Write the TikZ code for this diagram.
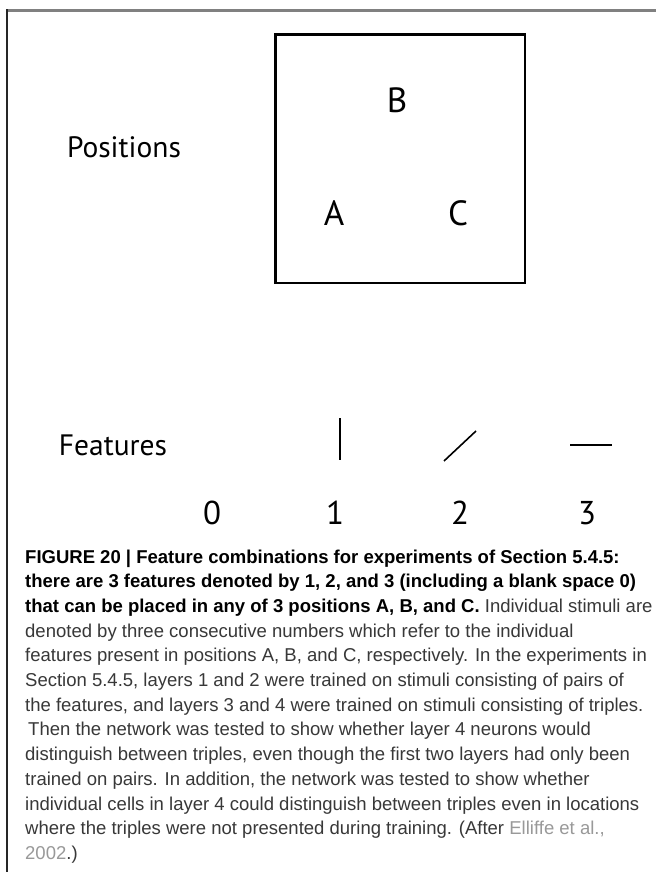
\documentclass[tikz,border=0pt]{standalone}
\usepackage{fontspec}
\setmainfont{Liberation Sans}
\newfontfamily\figfont{PT Sans}
\newfontfamily\capfont[FakeStretch=0.995]{Liberation Sans}
\definecolor{framecol}{gray}{0.5}
\definecolor{leftcol}{gray}{0.15}
\definecolor{captext}{gray}{0.22}
\definecolor{linkcol}{gray}{0.6}
\tikzset{
  lbl/.style={font=\figfont\fontsize{29.5}{32}\selectfont, inner sep=0},
  poslbl/.style={font=\figfont\fontsize{35}{38}\selectfont, inner sep=0},
  numlbl/.style={font=\figfont\fontsize{33}{36}\selectfont, inner sep=0},
  feat/.style={line width=1.6pt},
  capline/.style={font=\capfont\fontsize{18.6}{22}\selectfont, text=captext, anchor=base west, inner sep=0},
}
\begin{document}
\begin{tikzpicture}[x=1pt,y=-1pt]
\useasboundingbox (0,0) rectangle (656,872);
\fill[white] (0,0) rectangle (656,872);
\draw[framecol, line width=2.2pt] (6,10.5) -- (656,10.5);
\draw[leftcol, line width=2pt] (7,9.5) -- (7,872);
% positions
\node[draw, line width=2.5pt, minimum width=249.5pt, minimum height=248.5pt, inner sep=0, outer sep=0] (box) at (400.3,158.8) {};
\node[lbl] (positions) at (124,147) {Positions};
\node[poslbl] (B) at (397,100) {B};
\node[poslbl] (A) at (334,213) {A};
\node[poslbl] (C) at (458,213) {C};
% features
\node[lbl] (features) at (113,445) {Features};
\coordinate (f1a) at (340,418); \coordinate (f1b) at (340,460);
\coordinate (f2a) at (444,461); \coordinate (f2b) at (476,431);
\coordinate (f3a) at (570,445); \coordinate (f3b) at (612,445);
\draw[feat] (f1a) -- (f1b);
\draw[feat] (f2a) -- (f2b);
\draw[feat] (f3a) -- (f3b);
\node[numlbl] (n0) at (212,513) {0};
\node[numlbl] (n1) at (335,513) {1};
\node[numlbl] (n2) at (460,513) {2};
\node[numlbl] (n3) at (587,513) {3};
% caption
\node[capline] (c1) at (25,563.0) {\bfseries\color{black}FIGURE 20 | Feature combinations for experiments of Section 5.4.5:};
\node[capline] (c2) at (25,587.7) {\bfseries\color{black}there are 3 features denoted by 1, 2, and 3 (including a blank space 0)};
\node[capline] (c3) at (25,612.4) {{\bfseries\color{black}that can be placed in any of 3 positions A, B, and C.} Individual stimuli are};
\node[capline] (c4) at (25,637.1) {denoted by three consecutive numbers which refer to the individual};
\node[capline] (c5) at (25,661.8) {features present in positions A, B, and C, respectively. In the experiments in};
\node[capline] (c6) at (25,686.5) {Section 5.4.5, layers 1 and 2 were trained on stimuli consisting of pairs of};
\node[capline] (c7) at (25,711.2) {the features, and layers 3 and 4 were trained on stimuli consisting of triples.};
\node[capline] (c8) at (28,735.9) {Then the network was tested to show whether layer 4 neurons would};
\node[capline] (c9) at (25,760.6) {distinguish between triples, even though the first two layers had only been};
\node[capline] (c10) at (25,785.3) {trained on pairs. In addition, the network was tested to show whether};
\node[capline] (c11) at (25,810.0) {individual cells in layer 4 could distinguish between triples even in locations};
\node[capline] (c12) at (25,834.7) {where the triples were not presented during training. (After {\color{linkcol}Elliffe et al.,}};
\node[capline] (c13) at (25,859.4) {{\color{linkcol}2002}.)};
\end{tikzpicture}
\end{document}
